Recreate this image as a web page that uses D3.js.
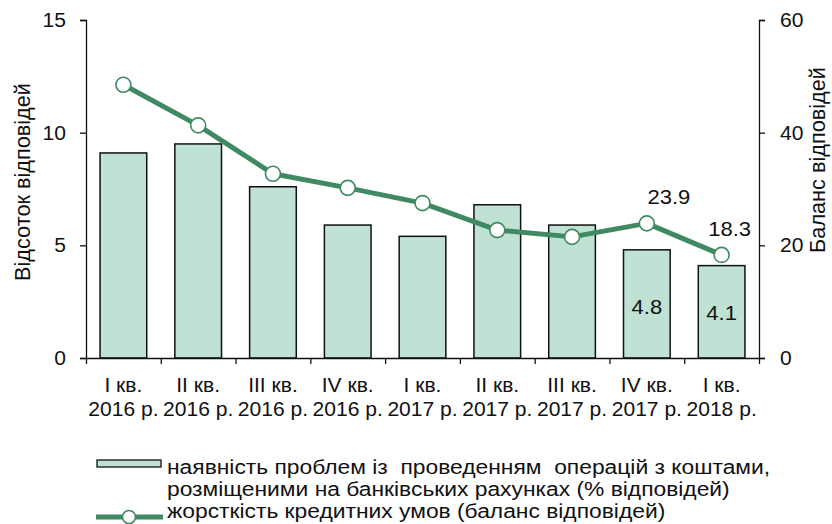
<!DOCTYPE html>
<html>
<head>
<meta charset="utf-8">
<script src="https://cdn.jsdelivr.net/npm/d3@7"></script>
<style>
  html, body { margin: 0; padding: 0; background: #fff; }
  svg { display: block; font-family: "Liberation Sans", Arial, sans-serif; }
  text { white-space: pre; }
</style>
</head>
<body>
<svg id="chart" width="832" height="524"></svg>
<script>
// Quarters on the category axis (two-line labels)
const quarters = ["I кв.", "II кв.", "III кв.", "IV кв.", "I кв.", "II кв.", "III кв.", "IV кв.", "I кв."];
const years = ["2016 р.", "2016 р.", "2016 р.", "2016 р.", "2017 р.", "2017 р.", "2017 р.", "2017 р.", "2018 р."];

// Bars: share of respondents with problems operating bank-account funds (%)
const problemShare = [9.1, 9.5, 7.6, 5.9, 5.4, 6.8, 5.9, 4.8, 4.1];
// Line: tightness of credit conditions (balance of responses)
const creditTightness = [48.5, 41.3, 32.7, 30.2, 27.5, 22.7, 21.5, 23.9, 18.3];

const leftTicks = [0, 5, 10, 15];
const rightTicks = [0, 20, 40, 60];

// Which points carry value labels
const barLabelIdx = [7, 8];
const lineLabelIdx = [7, 8];

const leftTitle = "Відсоток відповідей";
const rightTitle = "Баланс відповідей";
const legendBarText = ["наявність проблем із  проведенням  операцій з коштами,",
                       "розміщеними на банківських рахунках (% відповідей)"];
const legendLineText = "жорсткість кредитних умов (баланс відповідей)";

const GREEN = "#3f8a62";
const BAR_FILL = "#c0e2d4";

const svg = d3.select("#chart");
const idx = d3.range(quarters.length);

const x = d3.scaleBand().domain(idx).range([86, 759]).paddingInner(0.376).paddingOuter(0.188);
const xEdge = d3.scaleLinear().domain([0, quarters.length]).range([86, 759]);
const yL = d3.scaleLinear().domain([0, 15]).range([358, 20]);
const yR = d3.scaleLinear().domain([0, 60]).range([358, 20]);
const cx = i => x(i) + x.bandwidth() / 2;

// Text slightly widened horizontally
function label(g, tx, ty, str, opts) {
  const o = Object.assign({ anchor: "middle", size: 19.5, sx: 1.08, rotate: 0 }, opts || {});
  return g.append("text")
    .attr("transform", `translate(${tx},${ty})` + (o.rotate ? ` rotate(${o.rotate})` : "") + ` scale(${o.sx},1)`)
    .attr("text-anchor", o.anchor)
    .attr("font-size", o.size)
    .attr("fill", "#111")
    .text(str);
}

// Bars
svg.append("g").selectAll("rect").data(problemShare).join("rect")
  .attr("x", (d, i) => x(i))
  .attr("y", d => yL(d))
  .attr("width", x.bandwidth())
  .attr("height", d => yL(0) - yL(d))
  .attr("fill", BAR_FILL)
  .attr("stroke", "#111")
  .attr("stroke-width", 1.5);

// Axes
const axisStyle = g => {
  g.selectAll("path, line").attr("stroke", "#111").attr("stroke-width", 1.3);
  g.selectAll("text").remove();
};
svg.append("g").attr("transform", "translate(86,0)")
  .call(d3.axisLeft(yL).tickValues(leftTicks).tickSize(6).tickSizeOuter(6))
  .call(axisStyle);
svg.append("g").attr("transform", "translate(759,0)")
  .call(d3.axisRight(yR).tickValues(rightTicks).tickSize(6).tickSizeOuter(6))
  .call(axisStyle);
svg.append("g").attr("transform", "translate(0,358)")
  .call(d3.axisBottom(xEdge).tickValues(d3.range(quarters.length + 1)).tickSize(6).tickSizeOuter(0))
  .call(axisStyle);

// Tick labels
const tl = svg.append("g");
leftTicks.forEach(v => label(tl, 66, yL(v) + 7, String(v), { anchor: "end" }));
rightTicks.forEach(v => label(tl, 780, yR(v) + 7, String(v), { anchor: "start" }));
idx.forEach(i => {
  label(tl, cx(i), 391.5, quarters[i]);
  label(tl, cx(i), 415.5, years[i]);
});

// Axis titles
label(svg, 30, 182, leftTitle, { rotate: -90, size: 21.7, sx: 1 });
label(svg, 825, 160, rightTitle, { rotate: -90, size: 21.7, sx: 1 });

// Line
const line = d3.line().x((d, i) => cx(i)).y(d => yR(d));
svg.append("path").datum(creditTightness)
  .attr("d", line)
  .attr("fill", "none")
  .attr("stroke", GREEN)
  .attr("stroke-width", 5)
  .attr("stroke-linejoin", "round");
svg.append("g").selectAll("circle").data(creditTightness).join("circle")
  .attr("cx", (d, i) => cx(i))
  .attr("cy", d => yR(d))
  .attr("r", 7.5)
  .attr("fill", "#fff")
  .attr("stroke", GREEN)
  .attr("stroke-width", 1.6);

// Value labels
const vl = svg.append("g");
lineLabelIdx.forEach((i, k) => {
  const dx = k === 0 ? 22 : 8;
  label(vl, cx(i) + dx, yR(creditTightness[i]) - 19, creditTightness[i].toFixed(1), { size: 20, sx: 1.1 });
});
barLabelIdx.forEach(i => {
  label(vl, cx(i), Math.min(yL(problemShare[i]) + 64, 320), problemShare[i].toFixed(1), { size: 20, sx: 1.1 });
});

// Legend
const lg = svg.append("g");
lg.append("rect").attr("x", 97).attr("y", 460).attr("width", 64).attr("height", 7)
  .attr("fill", BAR_FILL).attr("stroke", "#111").attr("stroke-width", 1.3);
const legendOpts = { anchor: "start", size: 19.5, sx: 1.17 };
label(lg, 167, 474, legendBarText[0], legendOpts);
label(lg, 167, 496, legendBarText[1], legendOpts);
lg.append("line").attr("x1", 96).attr("x2", 163).attr("y1", 517).attr("y2", 517)
  .attr("stroke", GREEN).attr("stroke-width", 5);
lg.append("circle").attr("cx", 129).attr("cy", 517).attr("r", 6.5)
  .attr("fill", "#fff").attr("stroke", GREEN).attr("stroke-width", 1.5);
label(lg, 167, 518, legendLineText, legendOpts);
</script>
</body>
</html>
